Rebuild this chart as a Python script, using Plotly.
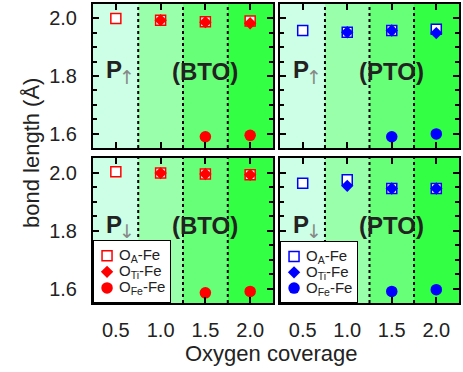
import plotly.graph_objects as go

coverage = [0.5, 1.0, 1.5, 2.0]

# panel data
bto_up_OA = [2.000, 1.994, 1.988, 1.991]
bto_up_OTi = [None, 1.994, 1.987, 1.983]
bto_up_OFe = [None, None, 1.589, 1.594]

pto_up_OA = [1.958, 1.952, 1.958, 1.962]
pto_up_OTi = [None, 1.952, 1.958, 1.949]
pto_up_OFe = [None, None, 1.589, 1.599]

bto_dn_OA = [2.003, 1.998, 1.995, 1.992]
bto_dn_OTi = [None, 1.998, 1.995, 1.992]
bto_dn_OFe = [None, None, 1.585, 1.590]

pto_dn_OA = [1.963, 1.975, 1.945, 1.945]
pto_dn_OTi = [None, 1.954, 1.945, 1.945]
pto_dn_OFe = [None, None, 1.590, 1.596]

series_names = ["O<sub>A</sub>-Fe", "O<sub>Ti</sub>-Fe", "O<sub>Fe</sub>-Fe"]
band_edges = [0.0, 0.75, 1.25, 1.75, 3.0]
band_colors = ["rgb(204,255,229)", "rgb(153,255,170)", "rgb(102,255,119)", "rgb(51,255,68)"]
yticks = [1.6, 1.8, 2.0]
ytick_text = ["1.6", "1.8", "2.0"]
xtick_text = ["0.5", "1.0", "1.5", "2.0"]

FONT = "Liberation Sans, Arial, sans-serif"
W, H = 463, 372


def px(x):
    return x / W


def py(y):
    return 1 - y / H


panels = [
    ("", (bto_up_OA, bto_up_OTi, bto_up_OFe), "#ff0000", "↑", "(BTO)", False, True),
    ("2", (pto_up_OA, pto_up_OTi, pto_up_OFe), "#0000ff", "↑", "(PTO)", False, False),
    ("3", (bto_dn_OA, bto_dn_OTi, bto_dn_OFe), "#ff0000", "↓", "(BTO)", True, True),
    ("4", (pto_dn_OA, pto_dn_OTi, pto_dn_OFe), "#0000ff", "↓", "(PTO)", True, False),
]

xdom = {"": [px(93), px(273)], "2": [px(280), px(459)],
        "3": [px(93), px(273)], "4": [px(280), px(459)]}
ydom = {"": [py(148), py(4)], "2": [py(148), py(4)],
        "3": [py(303), py(158)], "4": [py(303), py(158)]}

# legend boxes (drawn in their own small subplots)
legend_boxes = {"5": ([px(93), px(171)], [py(303), py(240)], "#ff0000"),
                "6": ([px(280), px(358)], [py(303), py(241)], "#0000ff")}

fig = go.Figure()
shapes = []
annotations = []
layout = {}

symbols = ["square", "diamond", "circle"]
sizes = [10, 9.5, 11.5]


def marker_for(i, color, scale=1.0):
    if symbols[i] == "square":
        return dict(symbol="square", size=sizes[i] * scale, color="white",
                    line=dict(color=color, width=1.5))
    return dict(symbol=symbols[i], size=sizes[i] * scale, color=color,
                line=dict(color=color, width=0))


for suf, data, color, pol, mat, showx, showy in panels:
    xa = "x" + suf
    ya = "y" + suf
    for i in range(3):
        fig.add_trace(go.Scatter(
            x=coverage, y=data[i], mode="markers", marker=marker_for(i, color),
            name=series_names[i], xaxis=xa, yaxis=ya, showlegend=False,
            cliponaxis=False,
        ))
    for j in range(4):
        shapes.append(dict(type="rect", xref=xa, yref=ya + " domain",
                           x0=band_edges[j], x1=band_edges[j + 1], y0=0, y1=1,
                           fillcolor=band_colors[j], line=dict(width=0), layer="below"))
    for xb in [0.75, 1.25, 1.75]:
        shapes.append(dict(type="line", xref=xa, yref=ya + " domain",
                           x0=xb, x1=xb, y0=0, y1=1,
                           line=dict(color="black", width=2, dash="dot"), layer="below"))
    annotations.append(dict(xref=xa, yref=ya, x=0.48, y=1.822,
                            text="<b>P</b>", width=16, borderpad=0,
                            showarrow=False, font=dict(size=24, color="#222", family=FONT),
                            xanchor="center", yanchor="middle"))
    annotations.append(dict(xref=xa, yref=ya, x=0.63, y=1.797,
                            text=pol, width=10, borderpad=0,
                            showarrow=False, font=dict(size=19, color="#888", family="DejaVu Sans"),
                            xanchor="center", yanchor="middle"))
    annotations.append(dict(xref=xa, yref=ya, x=1.5, y=1.817,
                            text="<b>" + mat + "</b>",
                            showarrow=False, font=dict(size=24, color="#222", family=FONT),
                            xanchor="center", yanchor="middle"))
    layout["xaxis" + suf] = dict(
        domain=xdom[suf], range=[0.245, 2.255], anchor=ya,
        tickvals=coverage, ticktext=xtick_text, showticklabels=showx,
        ticks="inside", ticklen=6, tickwidth=2, tickcolor="black",
        showline=True, linewidth=2, linecolor="black", mirror="ticks",
        showgrid=False, zeroline=False, ticklabelstandoff=8,
        tickfont=dict(size=20, family=FONT, color="#222"),
    )
    layout["yaxis" + suf] = dict(
        domain=ydom[suf], range=[1.55, 2.05], anchor=xa,
        tickvals=yticks, ticktext=ytick_text, showticklabels=showy,
        ticks="inside", ticklen=6, tickwidth=2, tickcolor="black",
        minor=dict(dtick=0.05, tick0=1.6, ticks="inside", ticklen=4, tickwidth=2, tickcolor="black"),
        showline=True, linewidth=2, linecolor="black", mirror="ticks",
        showgrid=False, zeroline=False, ticklabelstandoff=10,
        tickfont=dict(size=20, family=FONT, color="#222"),
    )

# legends
leg_x_marker = 0.18
leg_x_text = 0.31
leg_rows = [0.75, 0.495, 0.24]
for suf, (lx, ly, color) in legend_boxes.items():
    xa, ya = "x" + suf, "y" + suf
    fig.add_trace(go.Scatter(
        x=[0, 1, 1, 0, 0], y=[0, 0, 1, 1, 0], mode="lines", fill="toself",
        fillcolor="white", line=dict(color="black", width=2),
        xaxis=xa, yaxis=ya, showlegend=False, hoverinfo="skip", cliponaxis=False))
    for i in range(3):
        fig.add_trace(go.Scatter(
            x=[leg_x_marker], y=[leg_rows[i]], mode="markers",
            marker=marker_for(i, color), xaxis=xa, yaxis=ya,
            showlegend=False, hoverinfo="skip", cliponaxis=False))
        annotations.append(dict(xref=xa, yref=ya, x=leg_x_text, y=leg_rows[i],
                                text=series_names[i], showarrow=False,
                                xanchor="left", yanchor="middle",
                                font=dict(size=15, family=FONT, color="#222")))
    layout["xaxis" + suf] = dict(domain=lx, range=[0, 1], anchor=ya, visible=False, fixedrange=True)
    layout["yaxis" + suf] = dict(domain=ly, range=[0, 1], anchor=xa, visible=False, fixedrange=True)

annotations.append(dict(xref="paper", yref="paper", x=px(271), y=py(353),
                        text="Oxygen coverage", showarrow=False,
                        font=dict(size=22, family=FONT, color="#222"),
                        xanchor="center", yanchor="middle"))
annotations.append(dict(xref="paper", yref="paper", x=px(31), y=py(153),
                        text="bond length (Å)", showarrow=False, textangle=-90,
                        font=dict(size=22, family=FONT, color="#222"),
                        xanchor="center", yanchor="middle"))

fig.update_layout(
    width=W, height=H,
    margin=dict(l=0, r=0, t=0, b=0),
    paper_bgcolor="white", plot_bgcolor="white",
    shapes=shapes, annotations=annotations, showlegend=False,
    hovermode=False,
    **layout,
)

fig.write_html("out.html", config={"displayModeBar": False, "staticPlot": True},
               post_script="document.body.style.margin='0px';")
